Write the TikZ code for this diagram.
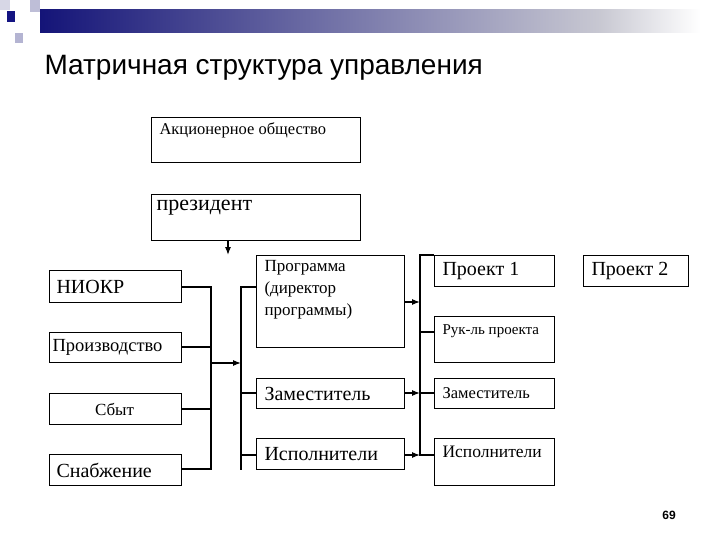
\documentclass[tikz,border=0pt]{standalone}
\usepackage{fontspec}
\setmainfont{Liberation Serif}
\newfontfamily\sansf{Liberation Sans}
\usetikzlibrary{arrows.meta}
\definecolor{hdark}{RGB}{20,20,120}
\definecolor{hlight}{RGB}{200,200,210}
\definecolor{sqa}{RGB}{190,190,215}
\definecolor{sqb}{RGB}{180,180,210}
\definecolor{sqc}{RGB}{215,215,230}
\definecolor{sqd}{RGB}{20,20,130}
\begin{document}
\begin{tikzpicture}[x=1pt,y=-1pt,
  bx/.style={draw,line width=1.1pt,inner sep=0pt},
  ln/.style={line width=1.1pt},
  ar/.style={ln,-{Latex[length=8pt,width=6pt]}}]
\useasboundingbox (0,0) rectangle (720,540);
\fill[white] (0,0) rectangle (720,540);
% header
\shade[left color=hdark,right color=hlight] (40,10) rectangle (600,33);
\shade[left color=hlight,right color=white] (600,10) rectangle (700,33);
\fill[sqa] (30,0) rectangle (40,12);
\fill[sqb] (15,33) rectangle (23,43);
\fill[sqc] (0,0) rectangle (10,10);
\fill[sqd] (7,11) rectangle (15,22);
\node[anchor=west,font=\sansf\fontsize{28}{30}\selectfont] (title) at (41,68) {Матричная структура управления};
% boxes
\node[bx,minimum width=209,minimum height=45,anchor=north west] (ao) at (151,117) {};
\node[anchor=north west,font=\fontsize{16.5}{18}\selectfont] at (ao.north west) [xshift=5,yshift=-2] {Акционерное общество};
\node[bx,minimum width=209,minimum height=46,anchor=north west] (pr) at (151,194) {};
\node[anchor=north west,font=\fontsize{22}{24}\selectfont] at (pr.north west) [xshift=2,yshift=-3] {президент};
\node[bx,minimum width=132,minimum height=32,anchor=north west] (n1) at (49,270) {};
\node[anchor=west,font=\fontsize{20}{22}\selectfont] at (n1.west) [xshift=4] {НИОКР};
\node[bx,minimum width=132,minimum height=30,anchor=north west] (n2) at (49,332) {};
\node[anchor=west,font=\fontsize{18.5}{20}\selectfont] at (n2.west) [xshift=0] {Производство};
\node[bx,minimum width=132,minimum height=31,anchor=north west] (n3) at (49,393) {};
\node[font=\fontsize{17}{19}\selectfont] at (n3.center) [xshift=-1] {Сбыт};
\node[bx,minimum width=132,minimum height=31,anchor=north west] (n4) at (49,454) {};
\node[anchor=west,font=\fontsize{20}{22}\selectfont] at (n4.west) [xshift=4] {Снабжение};
\node[bx,minimum width=148,minimum height=92,anchor=north west] (pg) at (256,255) {};
\node[anchor=north west,align=left,font=\fontsize{17}{22}\selectfont] at (pg.north west) [xshift=5,yshift=-2] {Программа\\(директор\\программы)};
\node[bx,minimum width=148,minimum height=30,anchor=north west] (z1) at (256,378) {};
\node[anchor=west,font=\fontsize{20}{22}\selectfont] at (z1.west) [xshift=5] {Заместитель};
\node[bx,minimum width=148,minimum height=31,anchor=north west] (i1) at (256,438) {};
\node[anchor=west,font=\fontsize{20}{22}\selectfont] at (i1.west) [xshift=5] {Исполнители};
\node[bx,minimum width=120,minimum height=31,anchor=north west] (p1) at (434,255) {};
\node[anchor=west,font=\fontsize{20}{22}\selectfont] at (p1.west) [xshift=5] {Проект 1};
\node[bx,minimum width=120,minimum height=46,anchor=north west] (rk) at (434,316) {};
\node[anchor=north west,font=\fontsize{15}{17}\selectfont] at (rk.north west) [xshift=5,yshift=-5] {Рук-ль проекта};
\node[bx,minimum width=120,minimum height=30,anchor=north west] (z2) at (434,378) {};
\node[anchor=west,font=\fontsize{16.5}{18}\selectfont] at (z2.west) [xshift=5] {Заместитель};
\node[bx,minimum width=120,minimum height=47,anchor=north west] (i2) at (434,438) {};
\node[anchor=north west,font=\fontsize{17.5}{19}\selectfont] at (i2.north west) [xshift=5,yshift=-5] {Исполнители};
\node[bx,minimum width=105,minimum height=31,anchor=north west] (p2) at (583,255) {};
\node[anchor=west,font=\fontsize{20}{22}\selectfont] at (p2.west) [xshift=5] {Проект 2};
\node[anchor=center,font=\sansf\bfseries\fontsize{12}{14}\selectfont] (pn) at (669,515) {69};
% connectors
\coordinate (pa) at (228,255);
\draw[ar] (pr.south -| pa) -- (pa);
\coordinate (b1t) at (211,287); \coordinate (b1b) at (211,469);
\draw[ln] (n1.east |- b1t) -- (b1t) -- (b1b) -- (n4.east |- b1b);
\draw[ln] (n2.east |- 0,347) -- (211,347);
\draw[ln] (n3.east |- 0,409) -- (211,409);
\coordinate (b2m) at (241,363);
\draw[ar] (211,363) -- (b2m);
\coordinate (b2t) at (241,287); \coordinate (b2b) at (241,470);
\draw[ln] (pg.west |- b2t) -- (b2t) -- (b2b);
\draw[ln] (241,393) -- (z1.west |- 0,393);
\draw[ln] (241,455) -- (i1.west |- 0,455);
\coordinate (b3t) at (420,255); \coordinate (b3b) at (420,455);
\draw[ln] (p1.north west) -- (b3t) -- (b3b) -- (i2.west |- b3b);
\draw[ln] (420,332) -- (rk.west |- 0,332);
\draw[ln] (420,393) -- (z2.west |- 0,393);
\draw[ar] (pg.east |- 0,302) -- (420,302);
\draw[ar] (z1.east |- 0,393) -- (420,393);
\draw[ar] (i1.east |- 0,455) -- (420,455);
\end{tikzpicture}
\end{document}
